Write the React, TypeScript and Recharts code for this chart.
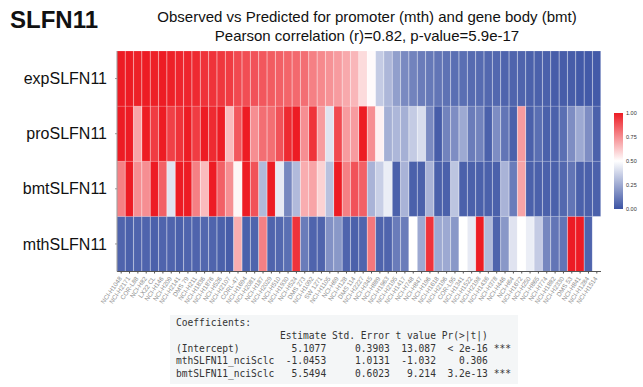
import React from 'react';
import { BarChart, Bar, XAxis, YAxis, Cell } from 'recharts';

// heatmap columns (cell lines)
const cellLines = [
  'NCI-H1048', 'NCI-H2171', 'COR-L88', 'NCI-H82', 'LX22 CL', 'NCI-H146', 'NCI-H209', 'NCI-H2141',
  'DMS 79', 'NCI-H211', 'NCI-H1836', 'NCI-H1876', 'NCI-H526', 'NCI-H2107', 'CORL-47', 'NCI-H1694',
  'NCI-H2081', 'NCI-H187', 'NCI-H2029', 'NCI-H510', 'NCI-H1930', 'NCI-H524', 'DMS 273', 'NCI-H1092',
  'SW 1271', 'NCI-H1105', 'NCI-H69', 'NCI-H128', 'DMS 114', 'NCI-H2227', 'NCI-H345', 'NCI-H889',
  'NCI-H1963', 'NCI-H2195', 'NCI-H1417', 'NCI-H748', 'NCI-H847', 'NCI-H196', 'NCI-H1618', 'NCI-H2196',
  'COR-L95', 'NCI-H1341', 'NCI-H1522', 'NCI-H2198', 'NCI-H1436', 'NCI-H378', 'NCI-H446', 'NCI-H64',
  'NCI-H1672', 'NCI-H250', 'NCI-H865', 'NCI-H774', 'NCI-H1882', 'NCI-H2330', 'DMS 53', 'NCI-H841',
  'NCI-H1284', 'NCI-H1514',
];

const expSLFN11 = [
  1.0, 1.0, 0.99, 1.0, 0.99, 1.0, 0.99, 0.98, 0.98, 0.97, 0.95, 0.95, 0.94, 0.93,
  0.9, 0.89, 0.88, 0.87, 0.86, 0.85, 0.84, 0.83, 0.82, 0.78, 0.76, 0.74, 0.72, 0.69, 0.66,
  0.58, 0.51, 0.35, 0.29, 0.22, 0.16, 0.14, 0.12, 0.11, 0.1, 0.09, 0.08, 0.08, 0.07, 0.07,
  0.06, 0.06, 0.05, 0.05, 0.05, 0.04, 0.04, 0.04, 0.03, 0.03, 0.03, 0.02, 0.02, 0.02,
];

const proSLFN11 = [
  1.0, 1.0, 0.7, 1.0, 0.93, 1.0, 0.92, 0.95, 1.0, 0.93, 1.0, 0.97, 1.0, 0.65,
  0.87, 1.0, 0.75, 0.82, 0.82, 0.88, 0.97, 1.0, 0.75, 0.95, 0.72, 0.42, 0.9, 0.72, 0.72,
  1.0, 0.75, 0.53, 0.27, 0.29, 0.27, 0.35, 0.4, 0.16, 0.03, 0.14, 0.17, 0.25, 0.12, 0.14,
  0.04, 0.17, 0.1, 0.04, 0.72, 0.04, 0.08, 0.04, 0.04, 0.08, 0.17, 0.25, 0.17, 0.04,
];

const bmtSLFN11 = [
  0.78, 1.0, 0.75, 0.75, 1.0, 0.85, 0.42, 1.0, 1.0, 0.78, 0.65, 1.0, 0.85, 0.75,
  0.52, 1.0, 0.88, 0.3, 1.0, 0.44, 0.15, 0.3, 0.68, 0.7, 0.6, 0.32, 1.0, 0.78, 0.88,
  0.85, 0.28, 0.36, 0.45, 0.04, 0.28, 0.04, 0.04, 0.28, 0.04, 0.04, 0.33, 0.04, 0.04, 0.04,
  0.04, 0.04, 0.28, 0.12, 0.7, 0.04, 0.04, 0.04, 0.04, 0.06, 0.1, 0.04, 0.04, 0.04,
];

const mthSLFN11 = [
  0.05, 0.04, 0.05, 0.05, 0.04, 0.05, 0.05, 0.04, 0.05, 0.05, 0.06, 0.05, 0.04, 0.03,
  0.68, 0.04, 0.05, 0.78, 0.05, 0.06, 0.08, 0.95, 0.12, 0.05, 0.05, 0.18, 0.2, 0.05, 0.04,
  0.05, 0.8, 0.05, 0.05, 0.12, 0.12, 0.5, 0.25, 0.95, 0.25, 0.25, 0.2, 0.5, 0.44, 1.0,
  0.3, 0.05, 0.2, 0.42, 0.5, 0.45, 0.35, 0.15, 0.1, 0.1, 1.0, 1.0, 0.05, 0.5,
];

const rowNames = ['mthSLFN11', 'bmtSLFN11', 'proSLFN11', 'expSLFN11'];
const scaleTicks = ['1.00', '0.75', '0.50', '0.25', '0.00'];

const coefLines = [
  'Coefficients:',
  '                  Estimate Std. Error t value Pr(>|t|)    ',
  '(Intercept)         5.1077     0.3903  13.087  < 2e-16 ***',
  'mthSLFN11_nciSclc  -1.0453     1.0131  -1.032    0.306    ',
  'bmtSLFN11_nciSclc   5.5494     0.6023   9.214  3.2e-13 ***',
];

const BLUE = [59, 83, 164];
const WHITE = [255, 255, 255];
const RED = [237, 28, 36];

const heatColor = (v: number) => {
  const mix = (a: number[], b: number[], t: number) =>
    `rgb(${a.map((c, i) => Math.round(c + (b[i] - c) * t)).join(',')})`;
  if (v < 0.5) return mix(BLUE, WHITE, v / 0.5);
  return mix(WHITE, RED, (v - 0.5) / 0.5);
};

// each row is one stacked segment of height 1
const data = cellLines.map(name => ({ name, mth: 1, bmt: 1, pro: 1, exp: 1 }));

const series = [
  { key: 'mth', values: mthSLFN11 },
  { key: 'bmt', values: bmtSLFN11 },
  { key: 'pro', values: proSLFN11 },
  { key: 'exp', values: expSLFN11 },
];

const font = '"Liberation Sans", Arial, sans-serif';

const RotTick = (props: any) => {
  const { x, y, payload } = props;
  return (
    <text
      x={x + 1}
      y={y + 3}
      transform={`rotate(-55, ${x + 1}, ${y + 3})`}
      textAnchor="end"
      fontSize={6.3}
      fontFamily={font}
      fill="#8c8c8c"
    >
      {payload.value}
    </text>
  );
};

const ColorBar = () => (
  <svg width={32} height={104} style={{ position: 'absolute', left: 612, top: 111 }}>
    <defs>
      <linearGradient id="heatGrad" x1="0" y1="0" x2="0" y2="1">
        <stop offset="0%" stopColor={heatColor(1)} />
        <stop offset="50%" stopColor={heatColor(0.5)} />
        <stop offset="100%" stopColor={heatColor(0)} />
      </linearGradient>
    </defs>
    <rect x={2} y={2} width={9} height={96} fill="url(#heatGrad)" />
    {scaleTicks.map((t, i) => (
      <text
        key={t}
        x={14}
        y={2 + i * 24 + 2}
        fontSize={5.5}
        fontFamily={font}
        fill="#333"
      >
        {t}
      </text>
    ))}
  </svg>
);

export default function App() {
  return (
    <div
      style={{
        position: 'absolute',
        left: 0,
        top: 0,
        width: 643,
        height: 387,
        background: '#fff',
        fontFamily: font,
        overflow: 'hidden',
      }}
    >
      <div style={{ position: 'absolute', left: 10, top: 6, fontSize: 24, fontWeight: 'bold', color: '#111' }}>
        SLFN11
      </div>
      <div
        style={{
          position: 'absolute',
          left: 117,
          width: 500,
          top: 7,
          textAlign: 'center',
          fontSize: 15,
          lineHeight: '19px',
          color: '#111',
        }}
      >
        Observed vs Predicted for promoter (mth) and gene body (bmt)
        <br />
        Pearson correlation (r)=0.82, p-value=5.9e-17
      </div>

      <BarChart
        width={643}
        height={387}
        data={data}
        margin={{ top: 51, right: 42, bottom: 0, left: 0 }}
        barCategoryGap={0}
        barGap={0}
      >
        <XAxis
          dataKey="name"
          interval={0}
          height={115.5}
          tickSize={2}
          tickMargin={2}
          stroke="#555"
          tick={(p: any) => <RotTick {...p} />}
        />
        <YAxis
          type="number"
          domain={[0, 4]}
          ticks={[0.5, 1.5, 2.5, 3.5]}
          tickFormatter={(v: number) => rowNames[Math.floor(v)]}
          width={117}
          tickSize={2}
          tickMargin={8}
          stroke="#999"
          tick={{ fontSize: 16, fill: '#111', fontFamily: font }}
        />
        {series.map(s => (
          <Bar key={s.key} dataKey={s.key} stackId="heat" isAnimationActive={false}>
            {s.values.map((v, i) => (
              <Cell key={i} fill={heatColor(v)} stroke="rgba(255,255,255,0.3)" strokeWidth={0.5} />
            ))}
          </Bar>
        ))}
      </BarChart>

      <ColorBar />

      <div
        style={{
          position: 'absolute',
          left: 170,
          top: 315,
          width: 348,
          height: 69,
          background: '#f4f6f7',
        }}
      />
      <pre
        style={{
          position: 'absolute',
          left: 176,
          top: 317,
          margin: 0,
          fontFamily: '"DejaVu Sans Mono", monospace',
          fontSize: 9.6,
          lineHeight: '12.8px',
          color: '#333',
        }}
      >
        {coefLines.join('\n')}
      </pre>
    </div>
  );
}
